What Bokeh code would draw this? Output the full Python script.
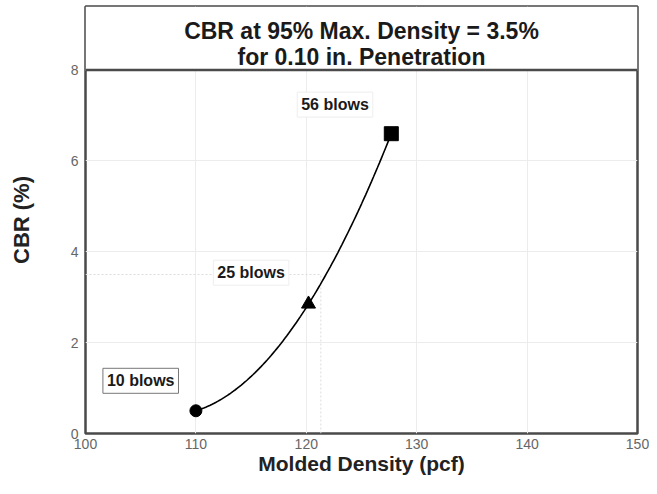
import numpy as np
from bokeh.plotting import figure
from bokeh.models import Range1d, FixedTicker, Label, Span
from bokeh.embed import file_html
from bokeh.resources import INLINE

# ---- data ----
blows = ["10 blows", "25 blows", "56 blows"]
density = [110.0, 120.2, 127.7]      # molded density (pcf)
cbr = [0.5, 2.85, 6.6]               # CBR (%)
markers = ["circle", "triangle", "square"]
marker_sizes = [12, 14, 14]
cbr_95 = 3.5
density_95 = 0.95 * density[2]
x_ticks = [100, 110, 120, 130, 140, 150]
y_ticks = [0, 2, 4, 6, 8]
title_lines = ["CBR at 95% Max. Density = 3.5%", "for 0.10 in. Penetration"]

FONT = "Liberation Sans"
DARK = "#4a4a4a"
Y_TOP = 9.40

p = figure(width=649, height=478, output_backend="svg", toolbar_location=None,
           x_range=Range1d(100, 150), y_range=Range1d(0, Y_TOP),
           min_border_left=85, min_border_right=12, min_border_top=6, min_border_bottom=45)

p.background_fill_color = "white"
p.border_fill_color = "white"
p.outline_line_color = DARK
p.outline_line_width = 2.5

# grid
p.xgrid.ticker = FixedTicker(ticks=x_ticks)
p.ygrid.ticker = FixedTicker(ticks=y_ticks)
p.grid.grid_line_color = "#ececec"
p.grid.grid_line_width = 1

# axes
for ax in (p.xaxis[0], p.yaxis[0]):
    ax.axis_line_color = None
    ax.major_tick_line_color = None
    ax.minor_tick_line_color = None
    ax.major_tick_out = 0
    ax.major_tick_in = 0
    ax.major_label_text_font = FONT
    ax.major_label_text_font_size = "14px"
    ax.major_label_text_color = "#666666"
    ax.axis_label_text_font = FONT
    ax.axis_label_text_font_style = "bold"
    ax.axis_label_text_font_size = "22px"
    ax.axis_label_text_color = "#222222"

p.xaxis.axis_label_text_font_size = "21px"
p.xaxis.ticker = FixedTicker(ticks=x_ticks)
p.yaxis.ticker = FixedTicker(ticks=y_ticks)
p.xaxis.axis_label = "Molded Density (pcf)"
p.yaxis.axis_label = "CBR (%)"
p.xaxis.major_label_standoff = 5
p.yaxis.major_label_standoff = 7
p.xaxis.axis_label_standoff = 0
p.yaxis.axis_label_standoff = 34

# faint reference lines at 95% max density
p.line([100, density_95], [cbr_95, cbr_95], line_color="#dddddd", line_width=1, line_dash="2 2")
p.line([density_95, density_95], [0, cbr_95], line_color="#dddddd", line_width=1, line_dash="2 2")

# fitted curve through the three compaction points
coef = np.polyfit(density, cbr, 2)
xs = np.linspace(density[0], density[-1], 100)
p.line(xs, np.polyval(coef, xs), line_color="black", line_width=1.6)

# points
for d, c, m, s in zip(density, cbr, markers, marker_sizes):
    p.scatter([d], [c], marker=m, size=s, fill_color="black", line_color="black")

# title band
p.quad(left=[100], right=[150], bottom=[8], top=[Y_TOP], fill_color="white", line_color=None)
p.add_layout(Span(location=8, dimension="width", line_color=DARK, line_width=2.5))
for txt, yy in zip(title_lines, [8.87, 8.28]):
    p.add_layout(Label(x=125, y=yy, text=txt, text_align="center", text_baseline="middle",
                       text_font=FONT, text_font_style="bold", text_font_size="23px",
                       text_color="#1a1a1a"))

# blow-count labels
label_pos = [(105.0, 1.16), (115.0, 3.54), (122.6, 7.24)]
label_border = ["#777777", "#eeeeee", "#eeeeee"]
for txt, (lx, ly), bc in zip(blows, label_pos, label_border):
    p.add_layout(Label(x=lx, y=ly, text=txt, text_align="center", text_baseline="middle",
                       text_font=FONT, text_font_style="bold", text_font_size="16px",
                       text_color="#1a1a1a", background_fill_color="white",
                       border_line_color=bc, border_line_width=1, padding=4))

open("out.html", "w").write(file_html(p, INLINE))
